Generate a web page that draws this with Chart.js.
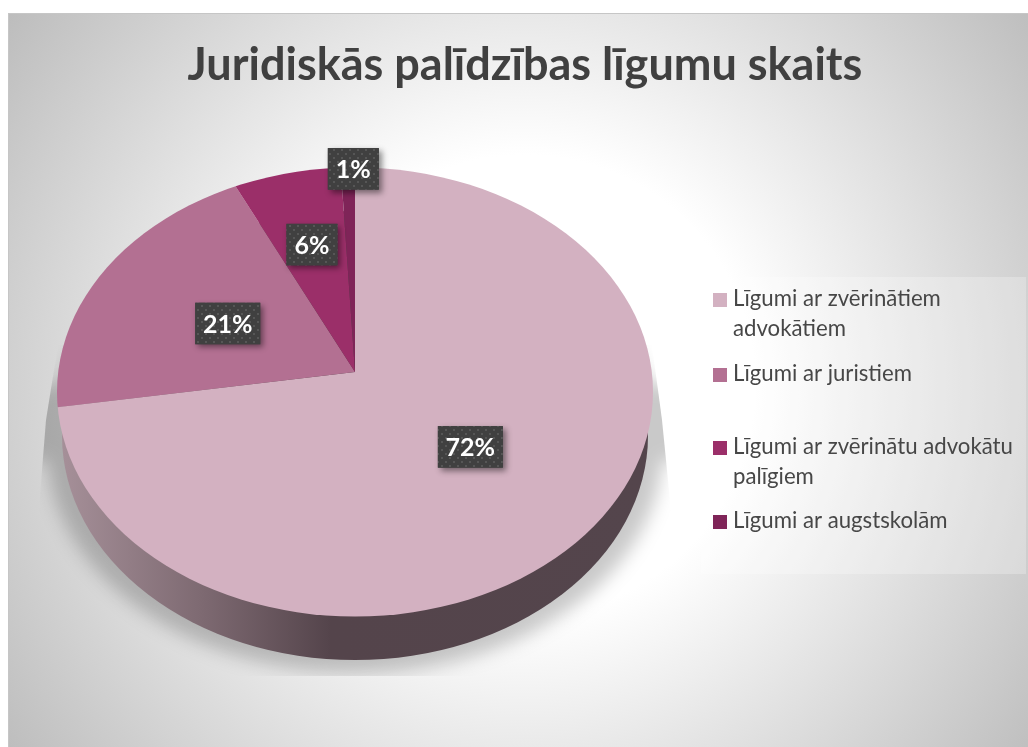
<!DOCTYPE html>
<html><head><meta charset="utf-8">
<style>html,body{margin:0;padding:0;background:#fff}#w{position:relative;width:1028px;height:747px}</style>
<script src="https://cdn.jsdelivr.net/npm/chart.js@4"></script>
</head><body><div id="w"><canvas id="c" width="1028" height="747"></canvas></div>
<script>
const titleText = 'Juridiskās palīdzības līgumu skaits';
const categories = ['Līgumi ar zvērinātiem advokātiem','Līgumi ar juristiem','Līgumi ar zvērinātu advokātu palīgiem','Līgumi ar augstskolām'];
const shares = [72.4, 20.7, 6.1, 0.8];
const sliceColors = ['#d3b1c1','#b37092','#9b2f69','#7f2458'];

const FONT = 'Lato, Carlito, "Open Sans", sans-serif';
const top3d = {cx:355, cy:392, rx:298, ry:224.5, apexY:372, squash:0.72};
const wall3d = {cx:355, cy:435.5, rx:293, ry:224.5};
const labelReach = [150,144,188,285];
const labelNudge = [[1,5],[0,0],[2,4],[5.5,2]];
const legendRows = [{y:299},{y:374},{y:447},{y:521}];

function dotPattern(ctx){
  const p=document.createElement('canvas');p.width=8;p.height=8;
  const g=p.getContext('2d');g.fillStyle='#404040';g.fillRect(0,0,8,8);
  g.fillStyle='#565656';g.fillRect(1,1,2,2);g.fillRect(5,5,2,2);
  return ctx.createPattern(p,'repeat');
}
const stage3d = {
  id:'stage3d',
  beforeDraw(chart){
    const c=chart.ctx; c.save();
    c.fillStyle='#fff';c.fillRect(0,0,1028,747);
    const g=c.createRadialGradient(525,385,230,525,385,640);
    g.addColorStop(0,'#ffffff');g.addColorStop(1,'#bcbcbc');
    c.fillStyle=g;c.fillRect(8,13,1020,734);
    c.fillStyle='#c6c6c6';c.fillRect(8,13,1020,1);c.fillRect(8,13,1,734);
    // legend panel
    c.fillStyle='rgba(255,255,255,0.25)';c.fillRect(701,277,325,297);
    c.restore();
  },
  beforeDatasetsDraw(chart){
    const c=chart.ctx, a=chart.getDatasetMeta(0).data[0];
    c.save();
    // ground shadow
    c.save();
    c.beginPath();c.moveTo(58,345);c.lineTo(46,420);c.lineTo(38,520);c.lineTo(38,676);c.lineTo(672,676);c.lineTo(672,520);c.lineTo(662,420);c.lineTo(652,345);c.closePath();c.clip();
    c.filter='blur(9px)';c.fillStyle='rgba(0,0,0,0.21)';
    c.beginPath();c.ellipse(355,447,308,226,0,0,Math.PI*2);c.rect(20,385,670,75);c.fill('nonzero');
    c.restore();
    // wall
    const wg=c.createLinearGradient(60,0,650,0);
    wg.addColorStop(0,'#a69099');wg.addColorStop(0.25,'#7c6870');wg.addColorStop(0.46,'#54444b');wg.addColorStop(1,'#54454c');
    c.fillStyle=wg;c.beginPath();c.ellipse(wall3d.cx,wall3d.cy,wall3d.rx,wall3d.ry,0,0,Math.PI*2);c.fill();
    // top face: pie squashed about its apex, trimmed to the perspective ellipse
    c.beginPath();c.ellipse(top3d.cx,top3d.cy,top3d.rx,top3d.ry,0,0,Math.PI*2);c.clip();
    c.translate(top3d.cx,top3d.apexY);c.scale(1,top3d.squash);c.translate(-a.x,-a.y);
  },
  afterDatasetsDraw(chart){
    const c=chart.ctx, arcs=chart.getDatasetMeta(0).data;
    c.restore();
    const total=shares.reduce((s,v)=>s+v,0);
    c.save();
    c.textAlign='center';c.textBaseline='middle';
    arcs.forEach((a,i)=>{
      const m=(a.startAngle+a.endAngle)/2;
      const x=top3d.cx+Math.cos(m)*labelReach[i]+labelNudge[i][0];
      const y=top3d.apexY+Math.sin(m)*labelReach[i]*top3d.squash+labelNudge[i][1];
      const t=Math.round(shares[i]/total*100)+'%';
      c.font='bold 25px '+FONT;
      const w=Math.round(c.measureText(t).width)+16,h=41.5;
      c.save();
      c.shadowColor='rgba(0,0,0,0.45)';c.shadowBlur=6;c.shadowOffsetX=3;c.shadowOffsetY=3;
      c.fillStyle='#404040';c.fillRect(x-w/2,y-h/2,w,h);
      c.restore();
      c.fillStyle=dotPattern(c);c.fillRect(x-w/2,y-h/2,w,h);
      c.fillStyle='#fff';c.fillText(t,x,y+1);
    });
    // legend
    c.textAlign='left';c.font='22.2px '+FONT;
    categories.forEach((name,i)=>{
      const y=legendRows[i].y;
      c.fillStyle=sliceColors[i];c.fillRect(713,y-6,14,14);
      c.fillStyle='#474747';
      const words=name.split(' ');let line='',ly=y;
      words.forEach(wd=>{
        const n=line?line+' '+wd:wd;
        if(c.measureText(n).width>288&&line){c.fillText(line,733,ly);ly+=30;line=wd;}else line=n;
      });
      c.fillText(line,733,ly);
    });
    c.restore();
  }
};
new Chart(document.getElementById('c'),{
  type:'pie',
  data:{labels:categories,datasets:[{data:shares,backgroundColor:sliceColors,borderWidth:0,clip:false}]},
  plugins:[stage3d],
  options:{
    responsive:false,animation:false,devicePixelRatio:1,radius:800,
    layout:{padding:{left:22}},
    plugins:{
      legend:{display:false},tooltip:{enabled:false},
      title:{display:true,text:titleText,color:'#404040',font:{family:FONT,size:45,weight:'bold'},padding:{top:38,bottom:0}}
    }
  }
});
</script></body></html>
